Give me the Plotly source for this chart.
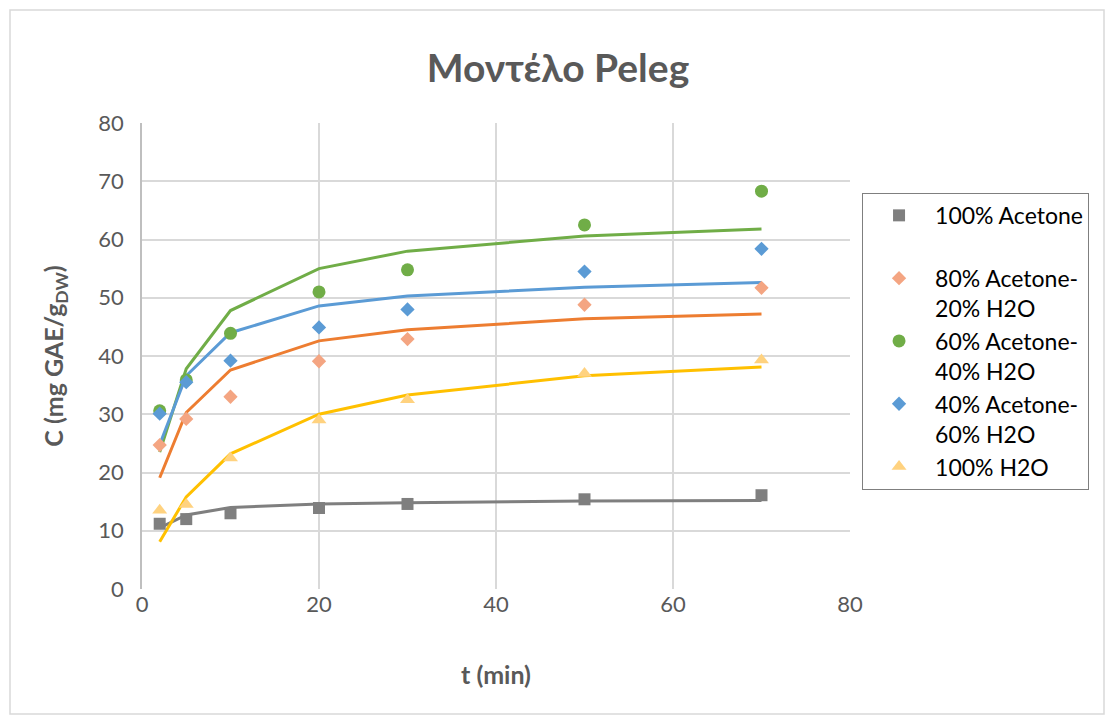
import plotly.graph_objects as go

t = [2, 5, 10, 20, 30, 50, 70]

names = ["100% Acetone<br> ", "80% Acetone-<br>20% H2O", "60% Acetone-<br>40% H2O",
         "40% Acetone-<br>60% H2O", "100% H2O"]

exp_100ac = [11.2, 12.0, 13.0, 13.9, 14.6, 15.4, 16.1]
exp_80ac = [24.7, 29.2, 33.0, 39.1, 42.9, 48.8, 51.7]
exp_60ac = [30.6, 35.9, 43.9, 51.0, 54.8, 62.5, 68.3]
exp_40ac = [30.1, 35.5, 39.2, 44.9, 48.0, 54.5, 58.4]
exp_h2o = [13.5, 14.5, 22.5, 29.0, 32.5, 37.0, 39.3]

fit_100ac = [10.5, 12.7, 14.0, 14.6, 14.8, 15.1, 15.2]
fit_80ac = [19.1, 30.3, 37.6, 42.6, 44.5, 46.4, 47.2]
fit_60ac = [23.5, 37.8, 47.8, 55.0, 58.0, 60.6, 61.8]
fit_40ac = [24.8, 36.6, 44.0, 48.6, 50.3, 51.8, 52.6]
fit_h2o = [8.1, 15.8, 23.2, 30.0, 33.3, 36.6, 38.1]

exps = [exp_100ac, exp_80ac, exp_60ac, exp_40ac, exp_h2o]
fits = [fit_100ac, fit_80ac, fit_60ac, fit_40ac, fit_h2o]
line_colors = ["#7f7f7f", "#ed7d31", "#70ad47", "#5b9bd5", "#ffc000"]
marker_colors = ["#7f7f7f", "#f4a582", "#70ad47", "#5b9bd5", "#ffd27f"]
symbols = ["square", "diamond", "circle", "diamond", "triangle-up"]
sizes = [12, 11, 13, 11, 13]

fig = go.Figure()
for f, c in zip(fits, line_colors):
    fig.add_trace(go.Scatter(x=t, y=f, mode="lines", line=dict(color=c, width=3),
                             showlegend=False, hoverinfo="skip"))
for e, n, c, s, sz in zip(exps, names, marker_colors, symbols, sizes):
    fig.add_trace(go.Scatter(x=t, y=e, mode="markers", name=n,
                             marker=dict(color=c, symbol=s, size=sz)))

font_main = "Lato, 'Open Sans', sans-serif"
fig.update_layout(
    width=1105, height=715,
    margin=dict(l=142, r=255, t=123, b=126),
    paper_bgcolor="white", plot_bgcolor="white",
    font=dict(family=font_main, color="#595959", size=22),
    title=dict(text="<b>Μοντέλο Peleg</b>", x=0.505, xanchor="center", y=0.905, yanchor="middle",
               font=dict(size=39, color="#595959")),
    xaxis=dict(range=[0, 80], tickvals=[0, 20, 40, 60, 80], showgrid=True, gridcolor="#d9d9d9",
               gridwidth=1.5, zeroline=False, showline=False, ticks="",
               title=dict(text="<b>t (min)</b>", font=dict(size=25, color="#595959"), standoff=50)),
    yaxis=dict(range=[0, 80], tickvals=list(range(0, 81, 10)), showgrid=True, gridcolor="#d9d9d9",
               gridwidth=1.5, zeroline=False, showline=True, linecolor="#bfbfbf", linewidth=1.5,
               ticks="", ticklabelstandoff=12,
               title=dict(text="<b>C (mg GAE/g<sub>DW</sub>)</b>", font=dict(size=25, color="#595959"),
                          standoff=28)),
    legend=dict(x=1.017, y=0.85, xanchor="left", yanchor="top", bordercolor="#7f7f7f", borderwidth=1,
                bgcolor="white", font=dict(size=23, color="#000000"), valign="top",
                tracegroupgap=0, itemwidth=62),
    shapes=[dict(type="rect", xref="paper", yref="paper",
                 x0=(10 - 142) / 708, x1=(1104 - 142) / 708,
                 y0=(589 - 714) / 466, y1=(589 - 10) / 466,
                 line=dict(color="#d9d9d9", width=1.5), layer="below")],
)
fig.write_html("out.html")
